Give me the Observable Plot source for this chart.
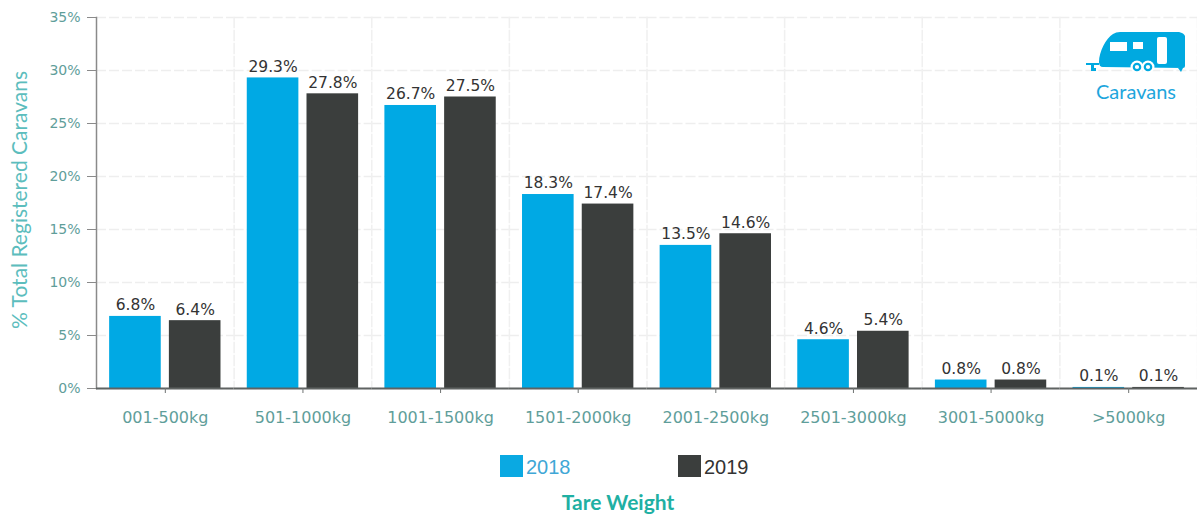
<!DOCTYPE html>
<html>
<head>
<meta charset="utf-8">
<script src="https://cdn.jsdelivr.net/npm/d3@7"></script>
<script src="https://cdn.jsdelivr.net/npm/@observablehq/plot@0.6"></script>
<style>
  html, body { margin: 0; padding: 0; background: #fff; overflow: hidden; }
  #page { position: relative; width: 1197px; height: 515px; }
  #chart svg { position: absolute; left: 0; top: 0; background: transparent; }
  .abs { position: absolute; white-space: nowrap; line-height: 1; }
  #ylabel { left: 18px; top: 200px; font: 21px Lato, sans-serif; color: #5cbdbd;
            transform: translate(-50%, -50%) rotate(-90deg); }
  #xlabel { left: 618px; top: 501px; font: 700 21px Lato, sans-serif; color: #1fb0a3;
            transform: translate(-50%, -50%); }
  .swatch { width: 23px; height: 22px; top: 455px; }
  .legend-text { top: 456px; font: 20px "Liberation Sans", Arial, sans-serif; }
  #badge-text { left: 1096px; top: 79px; font: 20px Lato, sans-serif; color: #1ea6dd; }
</style>
</head>
<body>
<div id="page">
  <div id="chart"></div>
  <div id="ylabel" class="abs">% Total Registered Caravans</div>
  <div class="abs swatch" style="left:500px;background:#0aa9e2"></div>
  <div class="abs legend-text" style="left:526px;color:#3fa7d6">2018</div>
  <div class="abs swatch" style="left:678px;background:#3b3e3d"></div>
  <div class="abs legend-text" style="left:704px;color:#333">2019</div>
  <div id="xlabel" class="abs">Tare Weight</div>
  <svg class="abs" style="left:1085px;top:30px" width="102" height="44" viewBox="0 0 102 44">
    <path fill="#00a9e0" d="M14 32 C14 22 21 8 28 4 Q31 2 35 2 L94 2 Q99 3 100 6 L100 36 Q100 38 98 38 L18 37 Q14 37 14 32Z"/>
    <path fill="#00a9e0" d="M1 33 H14 V35 H9 V38 H11 V41 H6 V35 H1Z"/>
    <path fill="#00a9e0" d="M93 38 H98 L96 42Z"/>
    <rect x="25" y="12" width="17" height="9" fill="#fff"/>
    <rect x="48" y="12" width="10" height="7" fill="#fff"/>
    <rect x="72" y="7" width="10" height="27" rx="2" fill="#fff"/>
    <circle cx="52" cy="37" r="6.5" fill="#fff"/>
    <circle cx="63" cy="37" r="6.5" fill="#fff"/>
    <circle cx="52" cy="37" r="3.2" fill="#fff" stroke="#00a9e0" stroke-width="2.2"/>
    <circle cx="63" cy="37" r="3.2" fill="#fff" stroke="#00a9e0" stroke-width="2.2"/>
  </svg>
  <div id="badge-text" class="abs">Caravans</div>
</div>
<script>
// Share of registered caravans by tare weight band, per year
const weightBands = ["001-500kg", "501-1000kg", "1001-1500kg", "1501-2000kg",
                     "2001-2500kg", "2501-3000kg", "3001-5000kg", ">5000kg"];
const years = ["2018", "2019"];
const values2018 = [6.8, 29.3, 26.7, 18.3, 13.5, 4.6, 0.8, 0.1];
const values2019 = [6.4, 27.8, 27.5, 17.4, 14.6, 5.4, 0.8, 0.1];
const yTicks = [0, 5, 10, 15, 20, 25, 30, 35];
const yearColors = ["#00a9e4", "#3b3e3d"];

const rows = weightBands.flatMap((band, i) => [
  {band, year: years[0], value: values2018[i]},
  {band, year: years[1], value: values2019[i]}
]);

const tickFont = "'DejaVu Sans', sans-serif";

const plot = Plot.plot({
  width: 1197,
  height: 450,
  marginLeft: 96,
  marginRight: 0,
  marginTop: 17,
  marginBottom: 62,
  style: {background: "transparent"},
  fx: {domain: weightBands, padding: 0, round: false, label: null},
  x: {domain: years, paddingInner: 0.136, paddingOuter: 0.22, round: false, axis: null},
  y: {domain: [0, 35], label: null},
  color: {domain: years, range: yearColors},
  marks: [
    Plot.gridY(yTicks, {stroke: "#eeeeee", strokeOpacity: 1, strokeWidth: 1.5, strokeDasharray: "10 3"}),
    Plot.frame({anchor: "right", stroke: "#f0f0f0", strokeWidth: 1.5, strokeDasharray: "10 3"}),
    Plot.frame({anchor: "left", fx: () => weightBands[0], stroke: "#8a8a8a", strokeWidth: 1.5}),
    Plot.barY(rows, {fx: "band", x: "year", y: "value", fill: "year"}),
    Plot.ruleY([0], {stroke: "#5f6362", strokeWidth: 2}),
    Plot.text(rows, {
      fx: "band", x: "year", y: "value",
      text: d => d.value.toFixed(1) + "%",
      dy: -11, fill: "#333", fontSize: 15.5, fontFamily: tickFont
    }),
    Plot.axisY({
      ticks: yTicks, tickFormat: d => d + "%", label: null, tickSize: 9, tickPadding: 7,
      stroke: "#8a8a8a", fill: "#5f9e9a", fontSize: 14, fontFamily: tickFont
    }),
    Plot.axisFx({
      anchor: "bottom", label: null, tickSize: 5, tickPadding: 18,
      stroke: "#6f7372", fill: "#5f9e9a", fontSize: 16, fontFamily: tickFont
    })
  ]
});
document.getElementById("chart").append(plot);
</script>
</body>
</html>
